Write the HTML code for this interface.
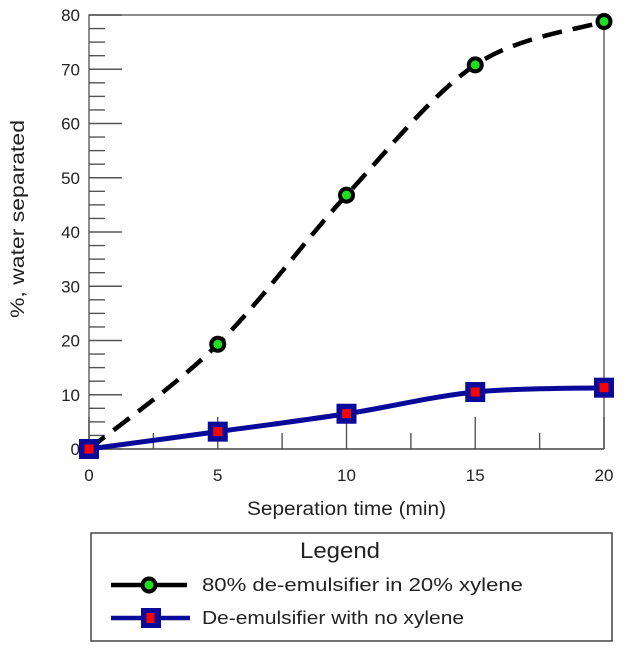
<!DOCTYPE html>
<html><head><meta charset="utf-8"><style>
body{margin:0;background:#fff;font-family:"Liberation Sans",sans-serif}
svg text{font-family:"Liberation Sans",sans-serif;fill:#222}
</style></head><body>
<svg id="c" width="628" height="650" xmlns="http://www.w3.org/2000/svg"></svg>
<script>
const xValues=[0,5,10,15,20];
const seriesXylene=[0,19.3,46.8,70.8,78.8];
const seriesNoXylene=[0,3.2,6.5,10.5,11.3];
const xTicks=[0,5,10,15,20];
const yTicks=[0,10,20,30,40,50,60,70,80];
const svg=document.getElementById('c');
const NS='http://www.w3.org/2000/svg';
const L=89,R=604,T=15,B=449;
const sx=v=>L+(v-0)/20*(R-L);
const sy=v=>B-(v-0)/80*(B-T);
function mk(tag,a,p){const e=document.createElementNS(NS,tag);for(const k in a)e.setAttribute(k,a[k]);(p||svg).appendChild(e);return e;}
const fr=mk('path',{d:`M${L},${B}V${T}H${R}V${B}`,fill:'none',stroke:'#666','stroke-width':1.5});


const xa=mk('line',{x1:L,y1:B,x2:R,y2:B,stroke:'#444','stroke-width':1.5});


for(let v=0;v<=80;v+=2.5){const major=v%10===0;const t=mk('line',{x1:L,y1:sy(v),x2:L+(major?33:16),y2:sy(v),stroke:'#555','stroke-width':1.4});

}
yTicks.forEach(v=>{const t=mk('text',{x:80,y:sy(v)+6,'text-anchor':'end','font-size':17});t.textContent=v;

});
for(let v=0;v<=20;v+=2.5){const major=v%5===0;const t=mk('line',{x1:sx(v),y1:B,x2:sx(v),y2:B-(major?32:16),stroke:'#555','stroke-width':1.4});

}
xTicks.forEach(v=>{const t=mk('text',{x:sx(v),y:481,'text-anchor':'middle','font-size':17});t.textContent=v;

});
const xt=mk('text',{x:247,y:515,'font-size':19,textLength:199,lengthAdjust:'spacingAndGlyphs'});xt.textContent='Seperation time (min)';


const yt=mk('text',{x:-318,y:24,'font-size':19,textLength:198,lengthAdjust:'spacingAndGlyphs',transform:'rotate(-90)'});yt.textContent='%, water separated';


function smooth(ys){const p=xValues.map((x,i)=>[sx(x),sy(ys[i])]);let d=`M${p[0][0]},${p[0][1]}`;
for(let i=0;i<p.length-1;i++){const p0=p[i-1]||p[i],p1=p[i],p2=p[i+1],p3=p[i+2]||p2;
d+=`C${p1[0]+(p2[0]-p0[0])/6},${p1[1]+(p2[1]-p0[1])/6} ${p2[0]-(p3[0]-p1[0])/6},${p2[1]-(p3[1]-p1[1])/6} ${p2[0]},${p2[1]}`;}return d;}
const l1=mk('path',{d:smooth(seriesXylene),fill:'none',stroke:'#000','stroke-width':4.5,'stroke-dasharray':'20 11'});


const l2=mk('path',{d:smooth(seriesNoXylene),fill:'none',stroke:'#0a0a9a','stroke-width':5});


xValues.forEach((x,i)=>{const c=mk('circle',{cx:sx(x),cy:sy(seriesXylene[i]),r:6.5,fill:'#1ee01e',stroke:'#000','stroke-width':4});


const X=sx(x),Y=sy(seriesNoXylene[i]);
const s=mk('rect',{x:X-10,y:Y-10,width:20,height:20,fill:'#0a0a9a'});


const r=mk('rect',{x:X-4.5,y:Y-4.5,width:9,height:9,fill:'#ff0000'});

});
const g=mk('g',{});
mk('rect',{x:91,y:533,width:521,height:108,fill:'#fff',stroke:'#444','stroke-width':1.5},g);
const lt=mk('text',{x:300,y:558,'font-size':22,textLength:80,lengthAdjust:'spacingAndGlyphs'},g);lt.textContent='Legend';


mk('line',{x1:111,y1:585,x2:187,y2:585,stroke:'#000','stroke-width':4.5},g);
mk('circle',{cx:149,cy:585,r:6.5,fill:'#1ee01e',stroke:'#000','stroke-width':4},g);
const e1=mk('text',{x:202,y:591,'font-size':18,textLength:321,lengthAdjust:'spacingAndGlyphs'},g);e1.textContent='80% de-emulsifier in 20% xylene';


mk('line',{x1:111,y1:618,x2:190,y2:618,stroke:'#0a0a9a','stroke-width':4.5},g);
mk('rect',{x:141,y:608,width:20,height:20,fill:'#0a0a9a'},g);
mk('rect',{x:146.5,y:613,width:8,height:10,fill:'#ff0000'},g);
const e2=mk('text',{x:202,y:624,'font-size':18,textLength:262,lengthAdjust:'spacingAndGlyphs'},g);e2.textContent='De-emulsifier with no xylene';


</script>
</body></html>
